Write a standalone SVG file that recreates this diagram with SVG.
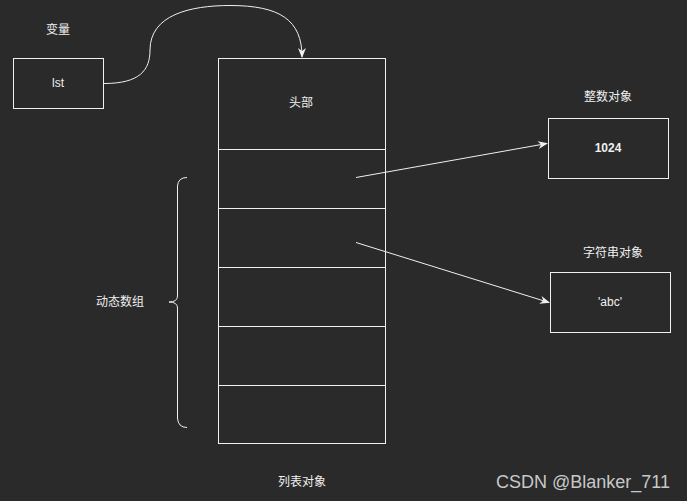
<svg xmlns="http://www.w3.org/2000/svg" width="687" height="501" viewBox="0 0 687 501">
<defs>
<style>
.box{fill:#2a2a2a;stroke:#f0f0f0;stroke-width:1}
.t{font-family:"Liberation Sans","Noto Sans CJK SC",sans-serif;font-size:12px;fill:#f0f0f0;text-anchor:middle}
.e{fill:none;stroke:#f0f0f0;stroke-width:1}
</style>
<marker id="ah" viewBox="0 0 10 10" refX="9" refY="5" markerWidth="10" markerHeight="10" markerUnits="userSpaceOnUse" orient="auto">
<path d="M0,1 L10,5 L0,9 L3,5 Z" fill="#f0f0f0"/>
</marker>
</defs>
<rect width="687" height="501" fill="#2a2a2a"/>
<g id="label-var"><text class="t" x="58" y="34">变量</text></g>
<g id="lst"><rect class="box" x="13.5" y="58.5" width="90" height="50"/><text class="t" x="58" y="87">lst</text></g>
<g id="list">
<rect class="box" x="218.5" y="58.5" width="167" height="385"/>
<line class="e" x1="218.5" y1="149.5" x2="385.5" y2="149.5"/>
<line class="e" x1="218.5" y1="208.5" x2="385.5" y2="208.5"/>
<line class="e" x1="218.5" y1="267.5" x2="385.5" y2="267.5"/>
<line class="e" x1="218.5" y1="326.5" x2="385.5" y2="326.5"/>
<line class="e" x1="218.5" y1="385.5" x2="385.5" y2="385.5"/>
<text class="t" x="301" y="107">头部</text>
<text class="t" x="302" y="486">列表对象</text>
</g>
<g id="int"><text class="t" x="608" y="101">整数对象</text><rect class="box" x="548.5" y="118.5" width="120" height="60"/><text class="t" x="608" y="152" font-weight="bold">1024</text></g>
<g id="str"><text class="t" x="613" y="257">字符串对象</text><rect class="box" x="550.5" y="272.5" width="120" height="60"/><text class="t" x="610" y="306">'abc'</text></g>
<g id="brace"><path class="e" d="M187,177.5 Q178,177.5 177.5,186 L177.5,296 Q177.5,302 169,302 Q177.5,302 177.5,308 L177.5,418 Q178,427.5 187,427.5"/><text class="t" x="120" y="306">动态数组</text></g>
<g id="connectors">
<path class="e" marker-end="url(#ah)" d="M104,83.5 C140,83.5 150,70 150,50 C150,15 190,5.5 230,5.5 C280,5.5 302,20 302,57"/>
<line class="e" marker-end="url(#ah)" x1="356" y1="177.5" x2="547" y2="143.5"/>
<line class="e" marker-end="url(#ah)" x1="356" y1="242.5" x2="549" y2="302.5"/>
</g>
<text x="670" y="488" font-family="Liberation Sans,sans-serif" font-size="18" fill="#c8c8c8" text-anchor="end">CSDN @Blanker_711</text>
</svg>
